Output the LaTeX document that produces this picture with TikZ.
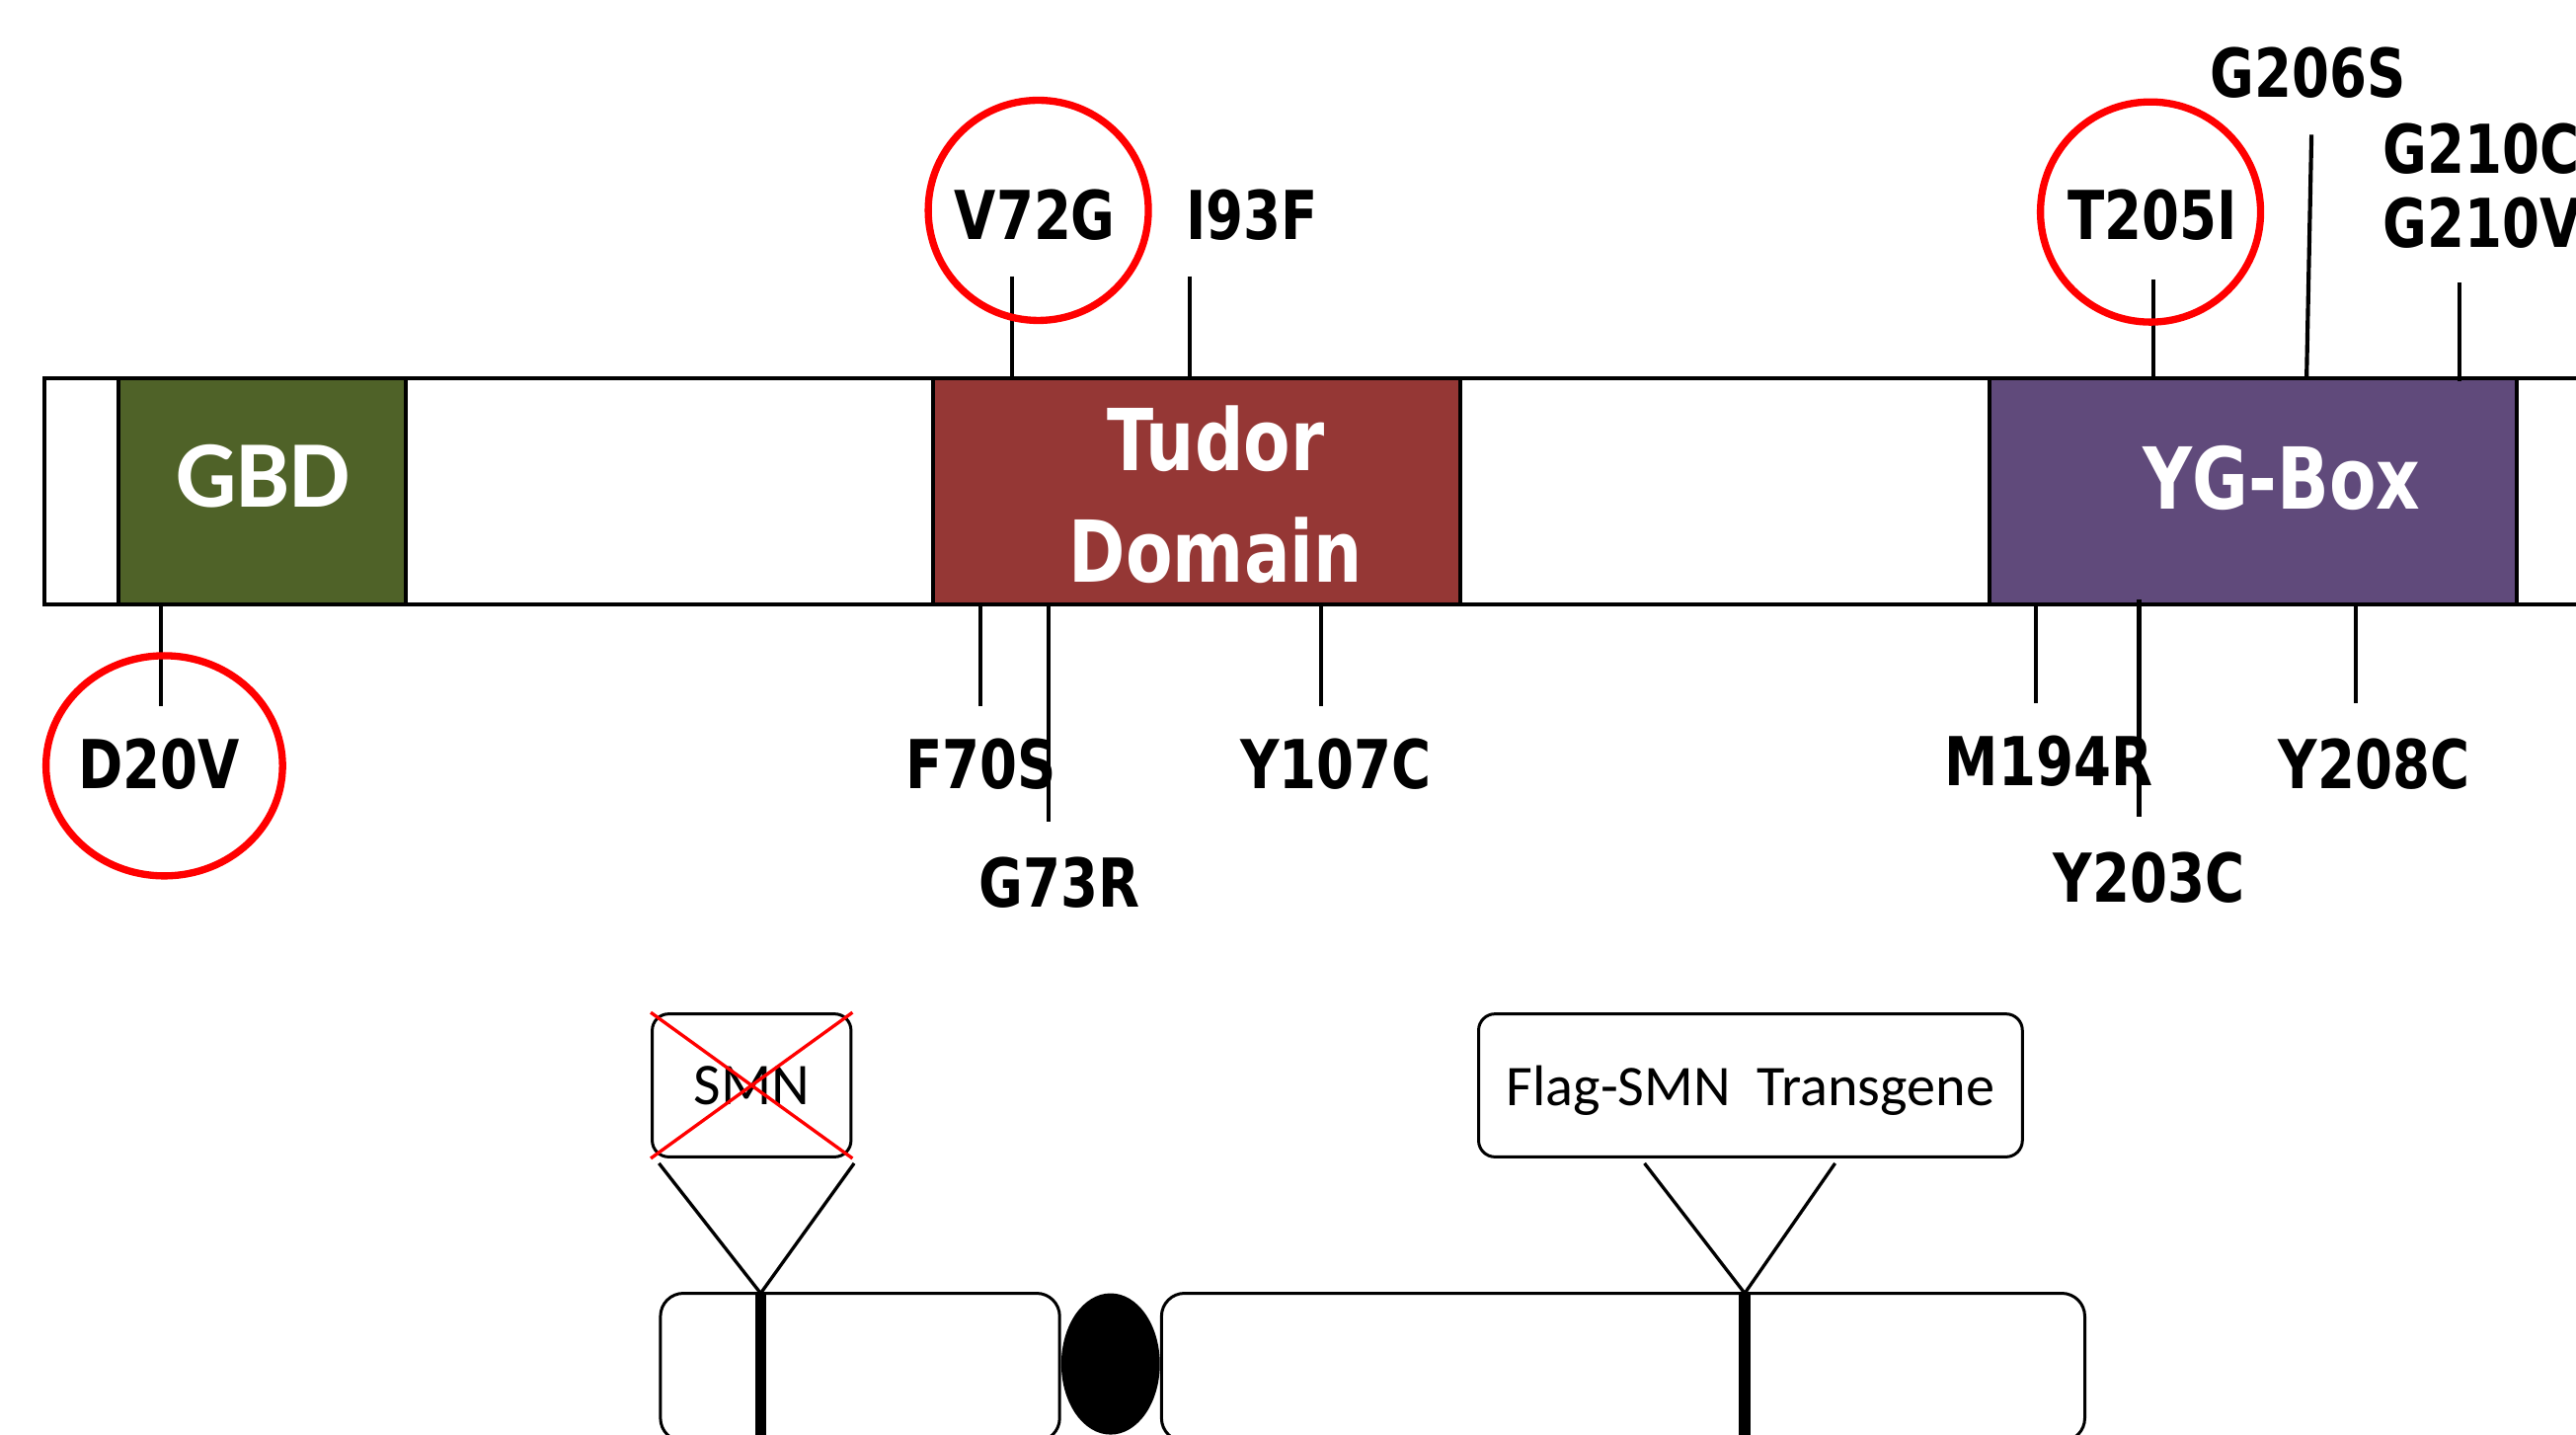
\documentclass[tikz,border=0pt]{standalone}
\usepackage{fontspec}
\setmainfont{Carlito}
\newfontfamily\mutfont[FakeStretch=0.8]{DejaVu Sans}
\usepackage{tikz}
\usepackage{xcolor}
\definecolor{gbdgreen}{HTML}{4F6228}
\definecolor{tudorred}{HTML}{953735}
\definecolor{ygpurple}{HTML}{604A7B}

\begin{document}
\begin{tikzpicture}[x=0.5pt, y=-0.5pt,
    mut/.style={font=\mutfont\bfseries\fontsize{20.5}{22.5}\selectfont, inner sep=0pt},
    dom/.style={text=white, inner sep=0pt, align=center},
    domfont/.style={font=\mutfont\bfseries\fontsize{26}{34}\selectfont},
    tick/.style={line width=1.25pt},
    ring/.style={red, line width=2.2pt},
    gene/.style={draw, rounded corners=5pt, line width=0.9pt, minimum width=60.5pt, minimum height=43.5pt, inner sep=0pt, font=\fontsize{18}{20}\selectfont},
    arm/.style={draw, rounded corners=7pt, line width=0.9pt},
    locus/.style={line width=3.5pt}]
    \clip (0,0) rectangle (1568,873);

    \draw[line width=1.3pt] (1600,230) -- (27,230) -- (27,368) -- (1600,368);
    \filldraw[fill=gbdgreen, line width=1.3pt] (72,230) rectangle (247,368);
    \filldraw[fill=tudorred, line width=1.3pt] (568,230) rectangle (889,368);
    \filldraw[fill=ygpurple, line width=1.3pt] (1211,230) rectangle (1532,368);
    \node[dom, font=\bfseries\fontsize{29}{30}\selectfont] (gbd) at (160,290) {GBD};
    \node[dom, domfont] (tudor) at (740,301) {Tudor\\Domain};
    \node[dom, domfont] (ygbox) at (1389,291) {YG-Box};

    \foreach \x/\ya/\yb in {616/168/230, 724/168/230, 1311/170/230, 1497/172/232,
        98/368/430, 597/368/430, 638/368/500, 804/368/430,
        1239/368/428, 1302/365/497, 1434/368/428}
        \draw[tick] (\x,\ya) -- (\x,\yb);
    \draw[tick] (1407,82) -- (1404,230);

    \node[mut] (v72g) at (630,131) {V72G};
    \node[mut] (i93f) at (762,131) {I93F};
    \node[mut] (t205i) at (1310,131) {T205I};
    \node[mut] (g206s) at (1405,44) {G206S};
    \node[mut, anchor=west, align=left] (g210) at (1450,113) {G210C\\G210V};
    \node[mut] (d20v) at (97,465) {D20V};
    \node[mut] (f70s) at (597,465) {F70S};
    \node[mut] (g73r) at (645,537) {G73R};
    \node[mut] (y107c) at (813,465) {Y107C};
    \node[mut] (m194r) at (1247,463) {M194R};
    \node[mut] (y203c) at (1308,534) {Y203C};
    \node[mut] (y208c) at (1445,465) {Y208C};

    \draw[ring] (632,128) circle[radius=67];
    \draw[ring] (1309,129) circle[radius=67];
    \draw[ring] (100,466) ellipse[x radius=72, y radius=67];

    \node[gene] (smn) at (457.5,660.5) {SMN};
    \node[gene, minimum width=165.5pt, text depth=0pt, font=\fontsize{17.5}{20}\selectfont] (flag) at (1065.5,660.5) {Flag-SMN\ \ Transgene};
    \draw[red, line width=1pt] (smn.north west) -- (smn.south east);
    \draw[red, line width=1pt] (smn.north east) -- (smn.south west);

    \coordinate (smnlocus) at (463,787);
    \coordinate (flaglocus) at (1062,787);
    \draw[line width=1pt] ([shift={(5,3)}]smn.south west) -- (smnlocus) -- ([shift={(1,3)}]smn.south east);
    \draw[line width=1pt] ([shift={(-64.5,3)}]flag.south) -- (flaglocus) -- ([shift={(51.5,3)}]flag.south);

    \draw[arm] (402,787) rectangle (645,877);
    \draw[arm] (707,787) rectangle (1269,877);
    \fill (676,830) ellipse[x radius=30, y radius=43];
    \draw[locus] (smnlocus) -- (463,880);
    \draw[locus] (flaglocus) -- (1062,880);
\end{tikzpicture}
\end{document}
